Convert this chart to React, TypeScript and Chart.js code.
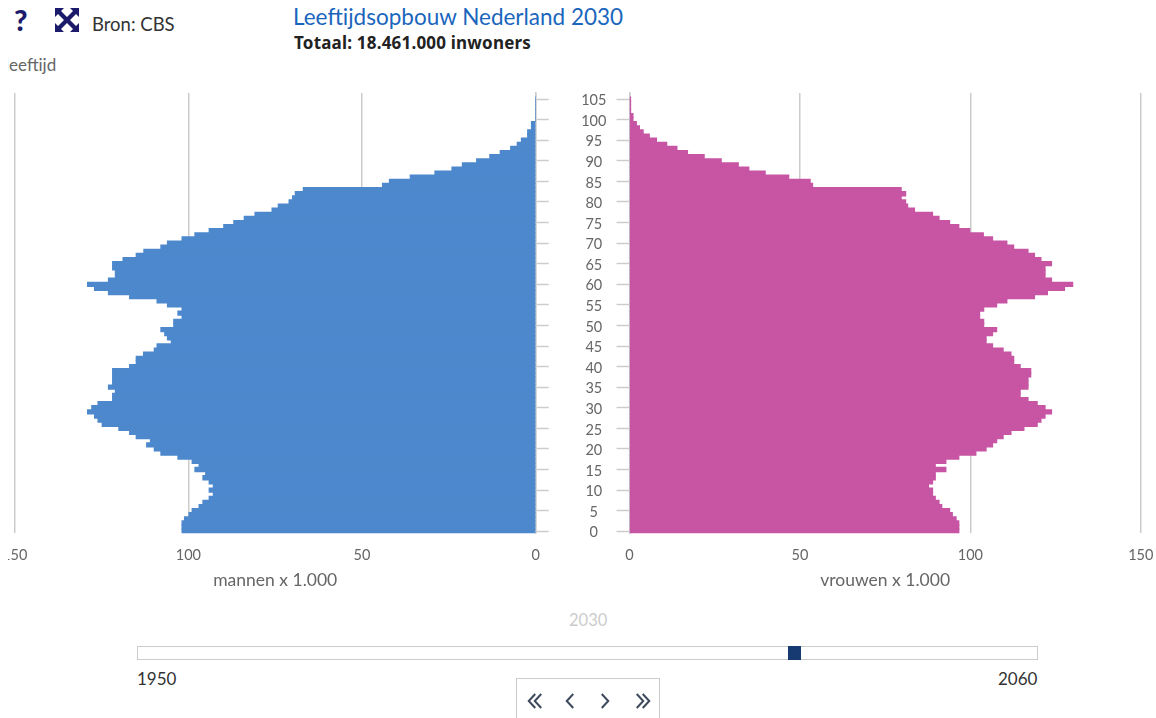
import React, { useEffect, useRef } from "react";
import { Chart, registerables } from "chart.js";

Chart.register(...registerables);

const ages: string[] = [];
for (const a of Array.from(Array(107).keys())) ages.push(String(a));

const mannen = [
  101.8, 101.8, 101.8, 101.1, 99.8, 98.9, 96.9, 95.8, 94, 92.8,
  94, 92.8, 94, 95.8, 95, 98.1, 96.9, 98.9, 103, 107.9,
  109.8, 112, 110.9, 115, 116.9, 120, 124.8, 126, 127, 129,
  127.8, 126, 121.8, 121.8, 121, 123, 121.8, 121.8, 121.8, 121.8,
  116.9, 115, 115, 112.9, 109.8, 109, 104.9, 106, 106.8, 107.9,
  104.2, 104.2, 101.8, 103, 101.8, 106, 109, 116.9, 123, 127,
  129, 123, 121, 121, 121.8, 121.8, 118.8, 115, 112.8, 107.9,
  106, 101.8, 98.1, 94, 89.8, 86.9, 83.9, 80.8, 75.9, 74.1,
  71, 70, 69.2, 66.9, 44.1, 42.1, 36.1, 29, 24.1, 21.1,
  17, 13.2, 10.2, 7.2, 5.3, 4.1, 2.3, 2.3, 1.2, 1.2,
  0, 0, 0, 0, 0, 0,
];

const vrouwen = [
  96.6, 96.6, 96.6, 95.8, 94.7, 93.9, 91.6, 90.8, 89.7, 88.9,
  88.9, 87.7, 88.9, 89.7, 89.7, 92.8, 89.7, 92.8, 96.6, 101.6,
  104.6, 106.5, 107.7, 109.6, 111.9, 115.7, 119.6, 120.7, 121.9, 123.8,
  121.9, 119.6, 116.9, 114.6, 114.6, 116.9, 116.9, 116.9, 117.7, 117.7,
  114.6, 112.7, 112.7, 111.9, 109.6, 106.5, 104.6, 104.6, 106.5, 107.7,
  103.9, 103.9, 102.7, 102.7, 103.9, 107.7, 110.7, 118.8, 122.6, 127.6,
  130, 123.8, 121.9, 121.9, 121.9, 123.8, 120.7, 118.8, 116.9, 112.7,
  110.7, 106.5, 103.8, 99.8, 96.6, 93.9, 90.8, 88.9, 83.6, 81.6,
  81, 79.7, 81, 79.7, 53.7, 53, 46.7, 39.8, 35, 31.9,
  26.9, 21.9, 17, 13.9, 10.9, 7.9, 5.8, 4, 2.9, 2,
  1, 1, 0.3, 0.3, 0.3, 0.3,
];

const FONT = "Lato";
const GREY = "#cccccc";
const TICK = "#666666";
const BLUE = "#4d88cd";
const PINK = "#c755a3";
const NAVY = "#1b1a6b";

const xAfterFit = (h: number) => (s: any) => {
  s.paddingLeft = 0;
  s.paddingRight = 0;
  s.height = h;
};

const onlyFives = (s: any) => {
  s.ticks = s.ticks.filter((t: any) => t.value % 5 === 0);
};

function makeOptions(side: "left" | "right", title: string): any {
  const isLeft = side === "left";
  return {
    responsive: false,
    animation: false,
    indexAxis: "y",
    layout: {
      padding: isLeft
        ? { left: 6.7, right: 0, top: 8.9, bottom: 0 }
        : { left: 0, right: 15.2, top: 8.9, bottom: 0 },
    },
    plugins: { legend: { display: false }, tooltip: { enabled: false }, title: { display: false } },
    scales: {
      x: {
        type: "linear",
        reverse: isLeft,
        min: 0,
        max: 150,
        border: { display: false },
        grid: { color: GREY, lineWidth: 1.5, drawTicks: false },
        ticks: {
          stepSize: 50,
          padding: 13.5,
          maxRotation: 0,
          color: TICK,
          font: { family: FONT, size: 14.5 },
        },
        title: {
          display: true,
          text: title,
          color: TICK,
          font: { family: FONT, size: 17.5 },
          padding: { top: 5, bottom: 9 },
        },
        afterFit: xAfterFit(66.7),
      },
      y: {
        type: "category",
        reverse: true,
        position: isLeft ? "right" : "left",
        offset: true,
        border: { display: true, color: GREY, width: 1.5 },
        grid: { offset: false, drawOnChartArea: false, drawTicks: true, tickLength: 13, tickColor: GREY, tickWidth: 1.5 },
        afterBuildTicks: onlyFives,
        ticks: isLeft
          ? {
              display: true,
              autoSkip: false,
              crossAlign: "center",
              padding: 32.5,
              labelOffset: 1.5,
              color: TICK,
              font: { family: FONT, size: 14.5 },
              callback: (v: number) => ages[v],
            }
          : { display: false, autoSkip: false },
        afterFit: (s: any) => {
          s.width = isLeft ? 74.3 : 19.5;
          s.paddingTop = 0;
          s.paddingBottom = 0;
        },
      },
    },
  };
}

function Pyramid(props: { side: "left" | "right"; values: number[]; color: string; title: string; left: number; width: number }) {
  const ref = useRef<HTMLCanvasElement | null>(null);
  useEffect(() => {
    const chart = new Chart(ref.current as HTMLCanvasElement, {
      type: "bar",
      data: {
        labels: ages,
        datasets: [
          {
            data: props.values,
            backgroundColor: props.color,
            borderWidth: 0,
            inflateAmount: 0.6,
            barPercentage: 1,
            categoryPercentage: 1,
          },
        ],
      },
      options: makeOptions(props.side, props.title),
    } as any);
    return () => chart.destroy();
  }, []);
  return (
    <canvas
      ref={ref}
      width={props.width}
      height={516}
      style={{ position: "absolute", left: props.left, top: 84, width: props.width, height: 516 }}
    />
  );
}

function Txt(props: { x: number; y: number; size: number; color: string; weight?: number; font?: string; spacing?: number; children: React.ReactNode }) {
  return (
    <div
      style={{
        position: "absolute",
        left: props.x,
        top: props.y,
        fontFamily: props.font ?? FONT,
        fontSize: props.size,
        lineHeight: 1,
        color: props.color,
        fontWeight: props.weight ?? 400,
        letterSpacing: props.spacing ?? 0,
        whiteSpace: "nowrap",
      }}
    >
      {props.children}
    </div>
  );
}

function ExpandIcon() {
  return (
    <svg width="26" height="26" viewBox="0 0 26 26" style={{ position: "absolute", left: 54, top: 7 }}>
      <g fill={NAVY}>
        <polygon points="1,1 10,1 7,4 13,10 19,4 16,1 25,1 25,10 22,7 16,13 22,19 25,16 25,25 16,25 19,22 13,16 7,22 10,25 1,25 1,16 4,19 10,13 4,7 1,10" />
      </g>
    </svg>
  );
}

function Chevron(props: { x: number; dir: 1 | -1; double?: boolean }) {
  const { x, dir } = props;
  const w = 6.5 * dir;
  const pts = (ox: number) => `${ox - w / 2},694 ${ox + w / 2},701 ${ox - w / 2},708`;
  return (
    <g fill="none" stroke="#3d4a5c" strokeWidth="2">
      <polyline points={pts(props.double ? x - 3 : x)} />
      {props.double ? <polyline points={pts(x + 3)} /> : null}
    </g>
  );
}

export default function App() {
  return (
    <div style={{ position: "absolute", left: 0, top: 0, width: 1156, height: 718, overflow: "hidden", background: "#fff" }}>
      <Txt x={14} y={5} size={29} color={NAVY} weight={900}>?</Txt>
      <ExpandIcon />
      <Txt x={92} y={15} size={18.5} color="#333333">Bron: CBS</Txt>
      <Txt x={293} y={6} size={22.5} color="#1a66bd">Leeftijdsopbouw Nederland 2030</Txt>
      <Txt x={294} y={34} size={17} color="#222222" weight={700} font="Noto Sans" spacing={0.2}>Totaal: 18.461.000 inwoners</Txt>
      <div style={{ position: "absolute", left: 8, top: 0, width: 100, height: 80, overflow: "hidden" }}>
        <Txt x={-3} y={56} size={17} color={TICK}>leeftijd</Txt>
      </div>

      <Pyramid side="left" values={mannen} color={BLUE} title="mannen x 1.000" left={8} width={602} />
      <Pyramid side="right" values={vrouwen} color={PINK} title="vrouwen x 1.000" left={610} width={546} />

      <Txt x={569} y={612} size={16.5} color={GREY}>2030</Txt>
      <div style={{ position: "absolute", left: 137, top: 646, width: 901, height: 13.5, boxSizing: "border-box", border: `1.5px solid ${GREY}` }} />
      <div style={{ position: "absolute", left: 787.5, top: 646, width: 13.5, height: 14, background: "#173a72" }} />
      <Txt x={137} y={670} size={17} color="#333333">1950</Txt>
      <Txt x={998} y={670} size={17} color="#333333">2060</Txt>
      <div style={{ position: "absolute", left: 515.5, top: 678, width: 144, height: 60, boxSizing: "border-box", border: `1.5px solid ${GREY}` }} />
      <svg width="1156" height="718" style={{ position: "absolute", left: 0, top: 0 }}>
        <Chevron x={535} dir={-1} double />
        <Chevron x={570} dir={-1} />
        <Chevron x={605} dir={1} />
        <Chevron x={643} dir={1} double />
      </svg>
    </div>
  );
}
